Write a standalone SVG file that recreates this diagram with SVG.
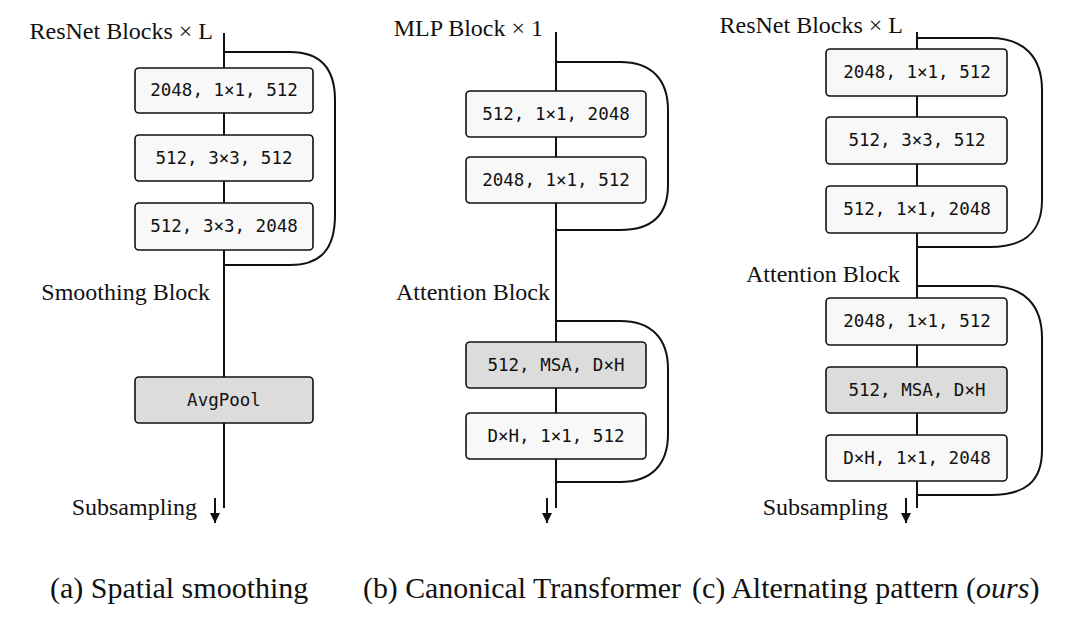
<svg xmlns="http://www.w3.org/2000/svg" width="1080" height="620" viewBox="0 0 1080 620">
<defs>
<style>
.lbl{font-family:"Liberation Serif","Times New Roman",serif;font-size:24px;fill:#111;}
.cap{font-family:"Liberation Serif","Times New Roman",serif;font-size:30px;fill:#111;}
.mono{font-family:"DejaVu Sans Mono","Liberation Mono",monospace;font-size:17.5px;fill:#111;text-anchor:middle;}
.box{fill:#f8f8f8;stroke:#111;stroke-width:1.6;}
.gray{fill:#dcdcdc;stroke:#111;stroke-width:1.6;}
.ln{fill:none;stroke:#111;stroke-width:2;}
</style>
<marker id="ah" viewBox="0 0 10 10" refX="10" refY="5" markerWidth="12" markerHeight="10" markerUnits="userSpaceOnUse" orient="auto">
<path d="M0,0 L10,5 L0,10 Z" fill="#111"/>
</marker>
</defs>
<rect width="1080" height="620" fill="#fff"/>

<g id="connectors">
<!-- panel a -->
<line class="ln" x1="224" y1="33" x2="224" y2="508"/>
<path class="ln" d="M224,52 H290 C322,52 335,70 335,100 V215 C335,250 320,265 290,265 H224"/>
<line class="ln" x1="215" y1="498" x2="215" y2="523" marker-end="url(#ah)"/>
<!-- panel b -->
<line class="ln" x1="556" y1="32" x2="556" y2="508"/>
<path class="ln" d="M556,62 H620 C652,62 668,80 668,110 V185 C668,215 652,230 620,230 H556"/>
<path class="ln" d="M556,321 H620 C652,321 668,339 668,369 V434 C668,464 652,482 620,482 H556"/>
<line class="ln" x1="547" y1="498" x2="547" y2="523" marker-end="url(#ah)"/>
<!-- panel c -->
<line class="ln" x1="917" y1="32" x2="917" y2="508"/>
<path class="ln" d="M917,38 H990 C1025,38 1042,58 1042,90 V200 C1042,232 1025,247 990,247 H917"/>
<path class="ln" d="M917,286 H990 C1025,286 1042,306 1042,338 V450 C1042,482 1025,495 990,495 H917"/>
<line class="ln" x1="906" y1="498" x2="906" y2="523" marker-end="url(#ah)"/>
</g>

<!-- panel a nodes -->
<g id="a-label-resnet"><text class="lbl" x="213" y="39" text-anchor="end">ResNet Blocks × L</text></g>
<g id="a-box1"><rect class="box" x="135" y="68" width="178" height="45" rx="4"/><text class="mono" x="224" y="96">2048, 1×1, 512</text></g>
<g id="a-box2"><rect class="box" x="135" y="135" width="178" height="46" rx="4"/><text class="mono" x="224" y="164">512, 3×3, 512</text></g>
<g id="a-box3"><rect class="box" x="135" y="203" width="178" height="47" rx="4"/><text class="mono" x="224" y="232">512, 3×3, 2048</text></g>
<g id="a-label-smooth"><text class="lbl" x="210" y="300" text-anchor="end">Smoothing Block</text></g>
<g id="a-avgpool"><rect class="gray" x="135" y="377" width="178" height="46" rx="4"/><text class="mono" x="224" y="406">AvgPool</text></g>
<g id="a-label-sub"><text class="lbl" x="197" y="515" text-anchor="end">Subsampling</text></g>

<!-- panel b nodes -->
<g id="b-label-mlp"><text class="lbl" x="543" y="36" text-anchor="end">MLP Block × 1</text></g>
<g id="b-box1"><rect class="box" x="466" y="91" width="180" height="46" rx="4"/><text class="mono" x="556" y="120">512, 1×1, 2048</text></g>
<g id="b-box2"><rect class="box" x="466" y="157" width="180" height="46" rx="4"/><text class="mono" x="556" y="186">2048, 1×1, 512</text></g>
<g id="b-label-att"><text class="lbl" x="550" y="300" text-anchor="end">Attention Block</text></g>
<g id="b-msa"><rect class="gray" x="466" y="342" width="180" height="46" rx="4"/><text class="mono" x="556" y="371">512, MSA, D×H</text></g>
<g id="b-box3"><rect class="box" x="466" y="413" width="180" height="46" rx="4"/><text class="mono" x="556" y="442">D×H, 1×1, 512</text></g>

<!-- panel c nodes -->
<g id="c-label-resnet"><text class="lbl" x="903" y="33" text-anchor="end">ResNet Blocks × L</text></g>
<g id="c-box1"><rect class="box" x="826" y="49" width="181" height="47" rx="4"/><text class="mono" x="917" y="78">2048, 1×1, 512</text></g>
<g id="c-box2"><rect class="box" x="826" y="117" width="181" height="47" rx="4"/><text class="mono" x="917" y="146">512, 3×3, 512</text></g>
<g id="c-box3"><rect class="box" x="826" y="186" width="181" height="47" rx="4"/><text class="mono" x="917" y="215">512, 1×1, 2048</text></g>
<g id="c-label-att"><text class="lbl" x="900" y="282" text-anchor="end">Attention Block</text></g>
<g id="c-box4"><rect class="box" x="826" y="298" width="181" height="47" rx="4"/><text class="mono" x="917" y="327">2048, 1×1, 512</text></g>
<g id="c-msa"><rect class="gray" x="826" y="367" width="181" height="46" rx="4"/><text class="mono" x="917" y="396">512, MSA, D×H</text></g>
<g id="c-box5"><rect class="box" x="826" y="435" width="181" height="46" rx="4"/><text class="mono" x="917" y="464">D×H, 1×1, 2048</text></g>
<g id="c-label-sub"><text class="lbl" x="888" y="515" text-anchor="end">Subsampling</text></g>

<!-- captions -->
<g id="captions">
<text class="cap" x="50" y="598">(a) Spatial smoothing</text>
<text class="cap" x="363" y="598" textLength="318" lengthAdjust="spacingAndGlyphs">(b) Canonical Transformer</text>
<text class="cap" x="692" y="598">(c) Alternating pattern (<tspan font-style="italic">ours</tspan>)</text>
</g>
</svg>
